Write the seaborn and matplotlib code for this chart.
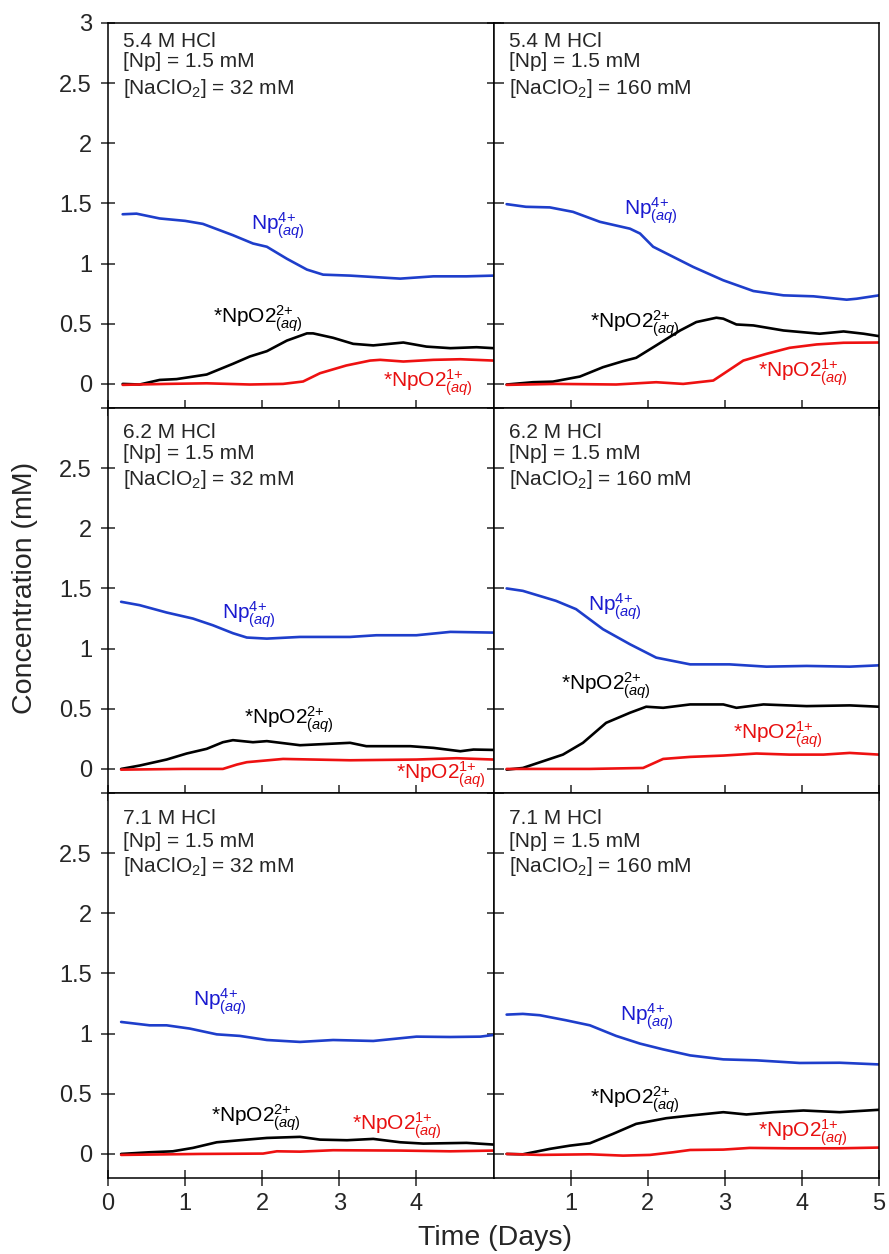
import matplotlib
matplotlib.use("Agg")
import matplotlib.pyplot as plt
import seaborn as sns
import pandas as pd

# ---- data: (time in days, concentration in mM) ----
# 5.4 M HCl, 32 mM NaClO2
a_np4 = [(0.19, 1.41), (0.37, 1.415), (0.67, 1.375), (1.0, 1.355), (1.23, 1.33), (1.62, 1.236),
         (1.88, 1.167), (2.06, 1.14), (2.32, 1.04), (2.58, 0.95), (2.79, 0.908), (3.14, 0.90),
         (3.79, 0.875), (4.22, 0.894), (4.65, 0.894), (5.0, 0.90)]
a_npo2_2 = [(0.19, 0.0), (0.41, -0.005), (0.67, 0.033), (0.89, 0.04), (1.28, 0.078), (1.62, 0.167),
            (1.84, 0.228), (2.06, 0.272), (2.32, 0.36), (2.58, 0.42), (2.66, 0.42), (2.92, 0.383),
            (3.18, 0.333), (3.44, 0.32), (3.83, 0.344), (4.13, 0.31), (4.44, 0.297), (4.78, 0.305),
            (5.0, 0.297)]
a_npo2_1 = [(0.19, -0.008), (0.76, 0.0), (1.28, 0.005), (1.84, -0.005), (2.27, 0.0), (2.53, 0.02),
            (2.75, 0.089), (3.09, 0.153), (3.40, 0.194), (3.53, 0.20), (3.83, 0.186), (4.22, 0.20),
            (4.57, 0.205), (5.0, 0.194)]
# 5.4 M HCl, 160 mM NaClO2
b_np4 = [(0.17, 1.494), (0.42, 1.472), (0.73, 1.467), (1.03, 1.43), (1.38, 1.347), (1.77, 1.29),
         (1.90, 1.25), (2.07, 1.14), (2.33, 1.056), (2.59, 0.972), (2.98, 0.861), (3.37, 0.772),
         (3.76, 0.736), (4.15, 0.728), (4.58, 0.70), (4.71, 0.708), (5.0, 0.736)]
b_npo2_2 = [(0.17, -0.005), (0.51, 0.014), (0.77, 0.019), (1.12, 0.061), (1.42, 0.139), (1.68, 0.189),
            (1.85, 0.217), (2.11, 0.32), (2.42, 0.444), (2.63, 0.514), (2.89, 0.55), (2.98, 0.542),
            (3.15, 0.494), (3.37, 0.486), (3.76, 0.444), (4.23, 0.417), (4.54, 0.436), (4.80, 0.417),
            (5.0, 0.397)]
b_npo2_1 = [(0.17, -0.008), (0.81, 0.0), (1.59, -0.005), (2.11, 0.014), (2.46, 0.0), (2.85, 0.028),
            (2.98, 0.083), (3.24, 0.194), (3.54, 0.25), (3.84, 0.30), (4.19, 0.328), (4.54, 0.342),
            (5.0, 0.344)]
# 6.2 M HCl, 32 mM NaClO2
c_np4 = [(0.17, 1.389), (0.41, 1.361), (0.76, 1.30), (1.10, 1.25), (1.36, 1.194), (1.62, 1.128),
         (1.80, 1.092), (2.06, 1.083), (2.49, 1.097), (3.14, 1.097), (3.48, 1.111), (4.0, 1.111),
         (4.44, 1.139), (5.0, 1.133)]
c_npo2_2 = [(0.17, 0.0), (0.41, 0.028), (0.76, 0.078), (1.02, 0.128), (1.28, 0.167), (1.49, 0.222),
            (1.62, 0.239), (1.88, 0.222), (2.06, 0.231), (2.49, 0.197), (3.14, 0.217), (3.35, 0.189),
            (3.92, 0.189), (4.22, 0.175), (4.57, 0.147), (4.74, 0.161), (5.0, 0.158)]
c_npo2_1 = [(0.17, -0.006), (0.97, 0.0), (1.49, 0.0), (1.67, 0.036), (1.80, 0.056), (2.27, 0.083),
            (3.14, 0.072), (4.0, 0.078), (4.52, 0.089), (5.0, 0.078)]
# 6.2 M HCl, 160 mM NaClO2
d_np4 = [(0.17, 1.50), (0.38, 1.48), (0.81, 1.397), (1.07, 1.328), (1.42, 1.161), (1.77, 1.036),
         (2.11, 0.925), (2.55, 0.869), (3.06, 0.869), (3.54, 0.85), (4.06, 0.856), (4.62, 0.85),
         (5.0, 0.861)]
d_npo2_2 = [(0.17, -0.006), (0.38, 0.008), (0.90, 0.119), (1.16, 0.217), (1.46, 0.383), (1.77, 0.467),
            (1.98, 0.517), (2.20, 0.508), (2.55, 0.536), (2.98, 0.536), (3.15, 0.508), (3.50, 0.536),
            (4.06, 0.522), (4.62, 0.528), (5.0, 0.517)]
d_npo2_1 = [(0.17, 0.0), (1.25, 0.0), (1.94, 0.008), (2.20, 0.083), (2.55, 0.10), (2.98, 0.111),
            (3.41, 0.128), (3.84, 0.119), (4.28, 0.119), (4.62, 0.133), (5.0, 0.119)]
# 7.1 M HCl, 32 mM NaClO2
e_np4 = [(0.17, 1.097), (0.54, 1.069), (0.76, 1.069), (1.06, 1.042), (1.41, 0.994), (1.71, 0.981),
         (2.06, 0.947), (2.49, 0.931), (2.92, 0.947), (3.44, 0.939), (4.0, 0.975), (4.44, 0.972),
         (4.83, 0.975), (5.0, 0.989)]
e_npo2_2 = [(0.17, 0.0), (0.54, 0.014), (0.84, 0.022), (1.10, 0.05), (1.41, 0.097), (1.71, 0.114),
            (2.06, 0.133), (2.49, 0.142), (2.75, 0.119), (3.10, 0.114), (3.44, 0.125), (3.79, 0.097),
            (4.09, 0.086), (4.65, 0.092), (5.0, 0.078)]
e_npo2_1 = [(0.17, -0.008), (1.19, 0.0), (2.01, 0.003), (2.19, 0.022), (2.49, 0.019), (2.92, 0.031),
            (3.79, 0.028), (4.44, 0.022), (5.0, 0.028)]
# 7.1 M HCl, 160 mM NaClO2
f_np4 = [(0.17, 1.158), (0.38, 1.164), (0.60, 1.153), (0.94, 1.111), (1.25, 1.069), (1.59, 0.981),
         (1.90, 0.917), (2.20, 0.869), (2.55, 0.819), (2.98, 0.786), (3.41, 0.778), (3.97, 0.756),
         (4.49, 0.758), (5.0, 0.744)]
f_npo2_2 = [(0.17, 0.0), (0.38, -0.003), (0.73, 0.042), (0.99, 0.069), (1.25, 0.089), (1.55, 0.167),
            (1.85, 0.25), (2.24, 0.297), (2.55, 0.319), (2.98, 0.347), (3.28, 0.328), (3.63, 0.347),
            (4.02, 0.361), (4.49, 0.347), (5.0, 0.367)]
f_npo2_1 = [(0.17, 0.0), (0.60, -0.008), (1.25, -0.003), (1.68, -0.014), (2.03, -0.008), (2.33, 0.014),
            (2.55, 0.033), (2.98, 0.036), (3.32, 0.05), (3.84, 0.047), (4.49, 0.047), (5.0, 0.053)]

hcl = ["5.4", "6.2", "7.1"]
naclo2 = ["32", "160"]
panels = [[(a_np4, a_npo2_2, a_npo2_1), (b_np4, b_npo2_2, b_npo2_1)],
          [(c_np4, c_npo2_2, c_npo2_1), (d_np4, d_npo2_2, d_npo2_1)],
          [(e_np4, e_npo2_2, e_npo2_1), (f_np4, f_npo2_2, f_npo2_1)]]

# label anchor positions (days, mM) for Np4+, NpO2 2+, NpO2 1+
label_pos = [[[(1.86, 1.28), (1.36, 0.50), (3.57, -0.03)], [(1.69, 1.40), (1.25, 0.46), (3.43, 0.056)]],
             [[(1.48, 1.244), (1.77, 0.37), (3.74, -0.09)], [(1.23, 1.31), (0.88, 0.65), (3.11, 0.244)]],
             [[(1.10, 1.225), (1.33, 0.264), (3.16, 0.20)], [(1.64, 1.10), (1.25, 0.41), (3.43, 0.14)]]]
info_y = [(2.80, 2.63, 2.41), (2.75, 2.58, 2.36), (2.74, 2.55, 2.34)]

species = ["Np4+", "NpO2 2+", "NpO2 1+"]
line_colors = {"Np4+": "#1e3ecb", "NpO2 2+": "#000000", "NpO2 1+": "#ee1111"}
text_colors = ["#1a1ad0", "#000000", "#e81010"]
labels = [r"Np$^{4{+}}_{(\mathit{aq})}$", r"*NpO2$^{2{+}}_{(\mathit{aq})}$", r"*NpO2$^{1{+}}_{(\mathit{aq})}$"]

sns.set_style("ticks")
plt.rcParams["font.family"] = ["Liberation Sans", "DejaVu Sans"]
plt.rcParams["mathtext.fontset"] = "custom"
plt.rcParams["mathtext.rm"] = "Liberation Sans"
plt.rcParams["mathtext.it"] = "Liberation Sans:italic"
plt.rcParams["mathtext.default"] = "regular"
plt.rcParams["axes.linewidth"] = 1.1

fig, axes = plt.subplots(3, 2, figsize=(8.89, 12.54), dpi=100)
fig.subplots_adjust(left=0.1215, right=0.9888, top=0.9817, bottom=0.0606, wspace=0, hspace=0)

for r in range(3):
    for c in range(2):
        ax = axes[r, c]
        frames = []
        for name, series in zip(species, panels[r][c]):
            df = pd.DataFrame(series, columns=["t", "conc"])
            df["species"] = name
            frames.append(df)
        data = pd.concat(frames, ignore_index=True)
        sns.lineplot(data=data, x="t", y="conc", hue="species", palette=line_colors,
                     estimator=None, sort=False, legend=False, linewidth=1.9, ax=ax)

        ax.set_xlim(0, 5)
        ax.set_ylim(-0.2, 3.0)
        ax.set_xlabel("")
        ax.set_ylabel("")
        for s in ax.spines.values():
            s.set_visible(True)
            s.set_color("black")

        yt = [0, 0.5, 1, 1.5, 2, 2.5, 3]
        ax.set_yticks(yt)
        if c == 0:
            ylab = ["0", "0.5", "1", "1.5", "2", "2.5", "3" if r == 0 else ""]
            ax.set_yticklabels(ylab)
            ax.tick_params(axis="y", direction="inout", length=10, width=1.1,
                           left=True, right=True, labelsize=17, pad=6.5)
            xt = [0, 1, 2, 3, 4]
        else:
            ax.set_yticklabels([])
            ax.tick_params(axis="y", direction="in", length=7, width=1.1,
                           left=True, right=False)
            xt = [1, 2, 3, 4, 5]
        ax.set_xticks(xt)
        if r == 2:
            ax.set_xticklabels([str(v) for v in xt])
        else:
            ax.set_xticklabels([])
        ax.tick_params(axis="x", direction="inout", length=12, width=1.1,
                       bottom=True, top=False, labelsize=17, pad=5)

        y1, y2, y3 = info_y[r]
        ax.text(0.2, y1, f"{hcl[r]} M HCl", fontsize=15, va="baseline")
        ax.text(0.2, y2, "[Np] = 1.5 mM", fontsize=15, va="baseline")
        ax.text(0.2, y3, f"[NaClO$_2$] = {naclo2[c]} mM", fontsize=15, va="baseline")

        for lab, col, (lx, ly) in zip(labels, text_colors, label_pos[r][c]):
            ax.text(lx, ly, lab, color=col, fontsize=15, va="baseline", ha="left")

fig.text(0.028, 0.531, "Concentration (mM)", rotation=90, fontsize=20.5,
         ha="center", va="center")
fig.text(0.557, 0.013, "Time (Days)", fontsize=20.5, ha="center", va="center")

fig.savefig("out.png", dpi=100)
